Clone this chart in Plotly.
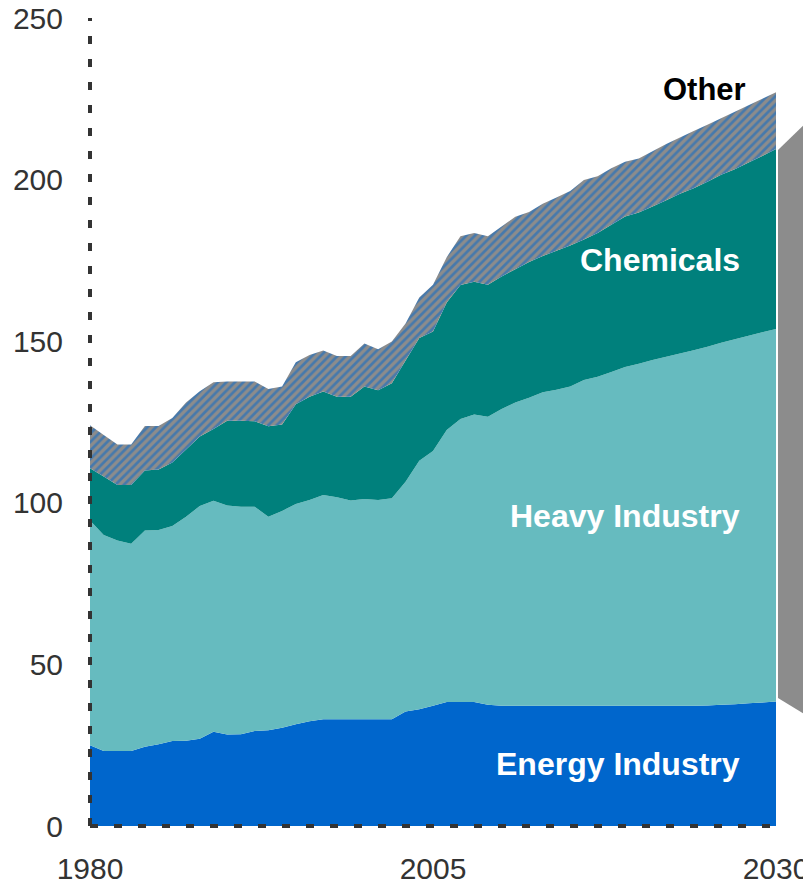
import plotly.graph_objects as go

years = list(range(1980, 2031))

energy = [25, 23.2, 23.2, 23.2, 24.5, 25.3, 26.3, 26.4, 27, 29.2,
          28.3, 28.4, 29.4, 29.6, 30.4, 31.5, 32.4, 33, 33, 33,
          33, 33, 33, 35.4, 36.1, 37.2, 38.4, 38.4, 38.4, 37.5,
          37.2, 37.2, 37.2, 37.2, 37.2, 37.2, 37.2, 37.2, 37.2, 37.2,
          37.2, 37.2, 37.2, 37.2, 37.2, 37.3, 37.5, 37.7, 38.0, 38.2, 38.5]

heavy = [69.5, 66.8, 65.1, 64.1, 66.9, 66.3, 66.5, 69.3, 72, 71.4,
         70.9, 70.4, 69.4, 66.1, 67.1, 68.1, 68.5, 69.4, 68.7, 67.7,
         68.2, 67.9, 68.4, 71.1, 76.9, 78.8, 84.1, 87.5, 88.9, 89.1,
         91.8, 93.8, 95.3, 97, 97.8, 98.8, 100.8, 101.8, 103.3, 104.8,
         105.8, 107, 108, 109, 110, 111, 112, 112.9, 113.7, 114.6, 115.3]

chemicals = [16.2, 18.1, 17.2, 18.2, 18.6, 18.7, 19.7, 20.8, 21.5, 22.2,
             26.2, 26.6, 26.4, 28, 26.7, 30.9, 31.9, 32, 31.1, 32.1,
             34.8, 33.9, 35.6, 37.5, 38, 37, 39.5, 41.5, 41.1, 40.9,
             41, 41.3, 42, 42.2, 43, 43.6, 43.5, 44.5, 45.5, 46.6,
             46.8, 47.5, 48.4, 49.4, 50.1, 51, 52, 52.6, 53.6, 54.5, 55.7]

other = [13.3, 12.9, 12.5, 12.5, 13.8, 13.5, 13.7, 14.5, 14, 14.5,
         12.1, 12.1, 12.3, 11.5, 11.8, 13, 12.9, 12.7, 12.6, 12.6,
         13.3, 12.7, 12.9, 11.5, 12.5, 14.5, 14, 15.1, 15.1, 15,
         15.5, 16.2, 15.5, 16.1, 16.5, 16.9, 18.4, 17.5, 17.5, 16.9,
         16.7, 17.1, 17.4, 17.4, 17.7, 17.7, 17.5, 17.8, 17.7, 17.7, 17.5]

y_ticks = [0, 50, 100, 150, 200, 250]
x_ticks = [1980, 2005, 2030]

# figure geometry (page has an 8px body margin)
OFF = 8
W, H = 811 - OFF, 887 - OFF
L, T = 90 - OFF, 18 - OFF
R = W - (776 - OFF)
B = H - (826 - OFF)
pw, ph = W - L - R, H - T - B

def px_x(page_x):
    return (page_x - OFF - L) / pw

def px_y(page_y):
    return (H - B - (page_y - OFF)) / ph

FONT = "Liberation Sans, Arial, sans-serif"

fig = go.Figure()

fig.add_trace(go.Scatter(x=years, y=energy, stackgroup="s", mode="none",
                         fillcolor="#0066CC", name="Energy Industry"))
fig.add_trace(go.Scatter(x=years, y=heavy, stackgroup="s", mode="none",
                         fillcolor="#66BBBF", name="Heavy Industry"))
fig.add_trace(go.Scatter(x=years, y=chemicals, stackgroup="s", mode="none",
                         fillcolor="#00807C", name="Chemicals"))
fig.add_trace(go.Scatter(x=years, y=other, stackgroup="s", mode="none",
                         fillcolor="#8a8a8a", name="Other",
                         fillpattern=dict(shape="/", bgcolor="#8c8c8c",
                                          fgcolor="#0066CC", size=6,
                                          solidity=0.45)))

# dotted axes
fig.add_shape(type="line", xref="paper", yref="paper", x0=0, x1=0, y0=0, y1=1,
              line=dict(color="#333333", width=4, dash="8px,15px"), layer="above")
fig.add_shape(type="line", xref="paper", yref="paper", x0=0, x1=1, y0=0, y1=0,
              line=dict(color="#333333", width=4, dash="8px,16px"), layer="above")

# gray bracket on the right
pts = [(778, 150), (811, 118), (811, 718), (778, 698)]
path = "M " + " L ".join(f"{px_x(a):.4f},{px_y(b):.4f}" for a, b in pts) + " Z"
fig.add_shape(type="path", xref="paper", yref="paper", path=path,
              fillcolor="#8c8c8c", line=dict(width=0))

labels = [
    ("Other", px_x(748), 228, "black", 31),
    ("Chemicals", px_x(742), 175, "white", 32),
    ("Heavy Industry", px_x(742), 96, "white", 32),
    ("Energy Industry", px_x(742), 19.2, "white", 32),
]
for txt, xp, yv, col, fs in labels:
    fig.add_annotation(text=f"<b>{txt}</b>", xref="paper", yref="y", x=xp, y=yv,
                       xanchor="right", yanchor="middle", showarrow=False,
                       font=dict(family=FONT, size=fs, color=col))

fig.update_layout(
    width=W, height=H,
    margin=dict(l=L, r=R, t=T, b=B),
    paper_bgcolor="white", plot_bgcolor="white",
    showlegend=False,
    font=dict(family=FONT, size=30, color="#333333"),
)
fig.update_xaxes(range=[1980, 2030], tickvals=x_ticks, showgrid=False,
                 zeroline=False, showline=False, ticks="outside", ticklen=16,
                 tickcolor="rgba(0,0,0,0)", automargin=False,
                 ticklabeloverflow="allow")
fig.update_yaxes(range=[0, 250], tickvals=y_ticks, showgrid=False,
                 zeroline=False, showline=False, ticks="outside", ticklen=20,
                 tickcolor="rgba(0,0,0,0)", automargin=False,
                 ticklabeloverflow="allow")

fig.write_html("out.html")
